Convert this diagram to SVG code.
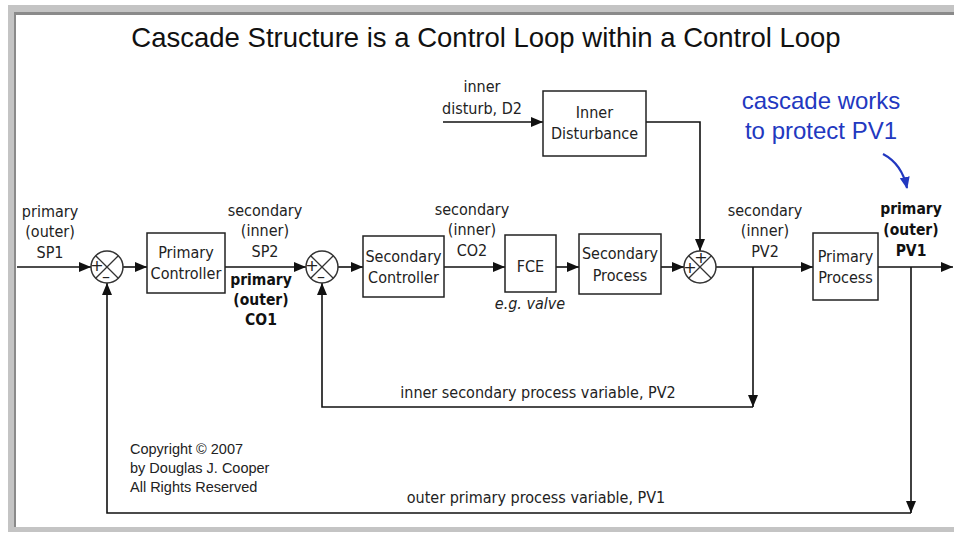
<svg xmlns="http://www.w3.org/2000/svg" width="954" height="533" viewBox="0 0 954 533">
<defs>
<marker id="ah" viewBox="0 0 12 10" markerWidth="12" markerHeight="10" refX="12" refY="5" orient="auto" markerUnits="userSpaceOnUse">
<path d="M0,0 L12,5 L0,10 z" fill="#111"/>
</marker>
<marker id="bh" viewBox="0 0 12 10" markerWidth="12" markerHeight="10" refX="11" refY="5" orient="auto" markerUnits="userSpaceOnUse">
<path d="M0,0 L12,5 L0,10 z" fill="#2238c0"/>
</marker>
<style>
.box{fill:#fff;stroke:#222;stroke-width:1.5}
.sum{fill:#fff;stroke:#333;stroke-width:1.5}
.x{stroke:#333;stroke-width:1.3}
.t{font-family:"DejaVu Sans Condensed","DejaVu Sans",Verdana,sans-serif;font-stretch:condensed;font-size:16px;fill:#222;text-anchor:middle}
.b{font-family:"DejaVu Sans Condensed","DejaVu Sans",Verdana,sans-serif;font-stretch:condensed;font-size:15.5px;font-weight:bold;fill:#111;text-anchor:middle}
.sg{font-family:"DejaVu Sans",sans-serif;font-size:16px;fill:#222;text-anchor:middle}
.c{stroke:#111;stroke-width:1.6;fill:none;marker-end:url(#ah)}
.cp{font-family:"Liberation Sans",Arial,sans-serif;font-size:14.5px;fill:#222}
</style>
</defs>
<rect x="0" y="0" width="954" height="533" fill="#fff"/>
<rect x="8" y="5" width="946" height="527" fill="#c4c4c4"/>
<rect x="14" y="12" width="940" height="515" fill="#8a8a8a"/>
<rect x="16" y="15" width="938" height="512" fill="#fff"/>

<text x="486" y="47" font-family="'Liberation Sans',Arial,sans-serif" font-size="27.5" fill="#111" text-anchor="middle">Cascade Structure is a Control Loop within a Control Loop</text>

<g id="connectors">
<path class="c" d="M17,267 H91"/>
<path class="c" d="M123,267 H147"/>
<path class="c" d="M225,267 H306"/>
<path class="c" d="M338,267 H363"/>
<path class="c" d="M444,267 H505"/>
<path class="c" d="M556,267 H579"/>
<path class="c" d="M661,267 H684"/>
<path class="c" d="M716,267 H813"/>
<path class="c" d="M878,267 H953"/>
<path class="c" d="M443,122 H543"/>
<path class="c" d="M646,122 H700 V251"/>
<path class="c" d="M753,267 V407"/>
<path class="c" d="M753,407 H322 V283"/>
<path class="c" d="M911,267 V513"/>
<path class="c" d="M911,513 H107 V283"/>
</g>

<g id="sum1">
<circle class="sum" cx="107" cy="267" r="16"/>
<path class="x" d="M95.7,255.7 L118.3,278.3 M118.3,255.7 L95.7,278.3"/>
<text class="sg" x="97" y="271">+</text>
<text class="sg" x="106" y="282">–</text>
</g>
<g id="sum2">
<circle class="sum" cx="322" cy="267" r="16"/>
<path class="x" d="M310.7,255.7 L333.3,278.3 M333.3,255.7 L310.7,278.3"/>
<text class="sg" x="312" y="271">+</text>
<text class="sg" x="321" y="282">–</text>
</g>
<g id="sum3">
<circle class="sum" cx="700" cy="267" r="16"/>
<path class="x" d="M688.7,255.7 L711.3,278.3 M711.3,255.7 L688.7,278.3"/>
<text class="sg" x="690" y="273">+</text>
<text class="sg" x="701" y="263">+</text>
</g>

<g id="primary-controller">
<rect class="box" x="147" y="233" width="78" height="60"/>
<text class="t" x="186" y="258">Primary</text>
<text class="t" x="186" y="279">Controller</text>
</g>
<g id="secondary-controller">
<rect class="box" x="363" y="236" width="81" height="61"/>
<text class="t" x="403.5" y="262">Secondary</text>
<text class="t" x="403.5" y="283">Controller</text>
</g>
<g id="fce">
<rect class="box" x="505" y="235" width="51" height="57"/>
<text class="t" x="530.5" y="272">FCE</text>
</g>
<g id="secondary-process">
<rect class="box" x="579" y="234" width="82" height="60"/>
<text class="t" x="620" y="259">Secondary</text>
<text class="t" x="620" y="281">Process</text>
</g>
<g id="primary-process">
<rect class="box" x="813" y="233" width="65" height="67"/>
<text class="t" x="845.5" y="262">Primary</text>
<text class="t" x="845.5" y="283">Process</text>
</g>
<g id="inner-disturbance">
<rect class="box" x="543" y="91" width="103" height="65"/>
<text class="t" x="594.5" y="118">Inner</text>
<text class="t" x="594.5" y="139">Disturbance</text>
</g>

<g id="labels">
<text class="t" x="50" y="217">primary</text>
<text class="t" x="50" y="237">(outer)</text>
<text class="t" x="50" y="258">SP1</text>

<text class="t" x="265" y="216">secondary</text>
<text class="t" x="265" y="236">(inner)</text>
<text class="t" x="265" y="257">SP2</text>

<text class="b" x="261" y="285">primary</text>
<text class="b" x="261" y="305">(outer)</text>
<text class="b" x="261" y="325">CO1</text>

<text class="t" x="472" y="215">secondary</text>
<text class="t" x="472" y="235">(inner)</text>
<text class="t" x="472" y="256">CO2</text>

<text class="t" x="530" y="309" font-style="italic">e.g. valve</text>

<text class="t" x="482" y="92">inner</text>
<text class="t" x="482" y="114">disturb, D2</text>

<text class="t" x="765" y="216">secondary</text>
<text class="t" x="765" y="236">(inner)</text>
<text class="t" x="765" y="257">PV2</text>

<text class="b" x="911" y="214">primary</text>
<text class="b" x="911" y="235">(outer)</text>
<text class="b" x="911" y="256">PV1</text>

<text class="t" x="538" y="398">inner secondary process variable, PV2</text>
<text class="t" x="536" y="503">outer primary process variable, PV1</text>

<text class="cp" x="130" y="454">Copyright © 2007</text>
<text class="cp" x="130" y="473">by Douglas J. Cooper</text>
<text class="cp" x="130" y="492">All Rights Reserved</text>
</g>

<g id="annotation">
<text x="821" y="109" font-family="'Liberation Sans',Arial,sans-serif" font-size="24" fill="#2238c0" text-anchor="middle">cascade works</text>
<text x="821" y="139" font-family="'Liberation Sans',Arial,sans-serif" font-size="24" fill="#2238c0" text-anchor="middle">to protect PV1</text>
<path d="M883,154 Q902,164 907,188" fill="none" stroke="#2238c0" stroke-width="2.2" marker-end="url(#bh)"/>
</g>
</svg>
